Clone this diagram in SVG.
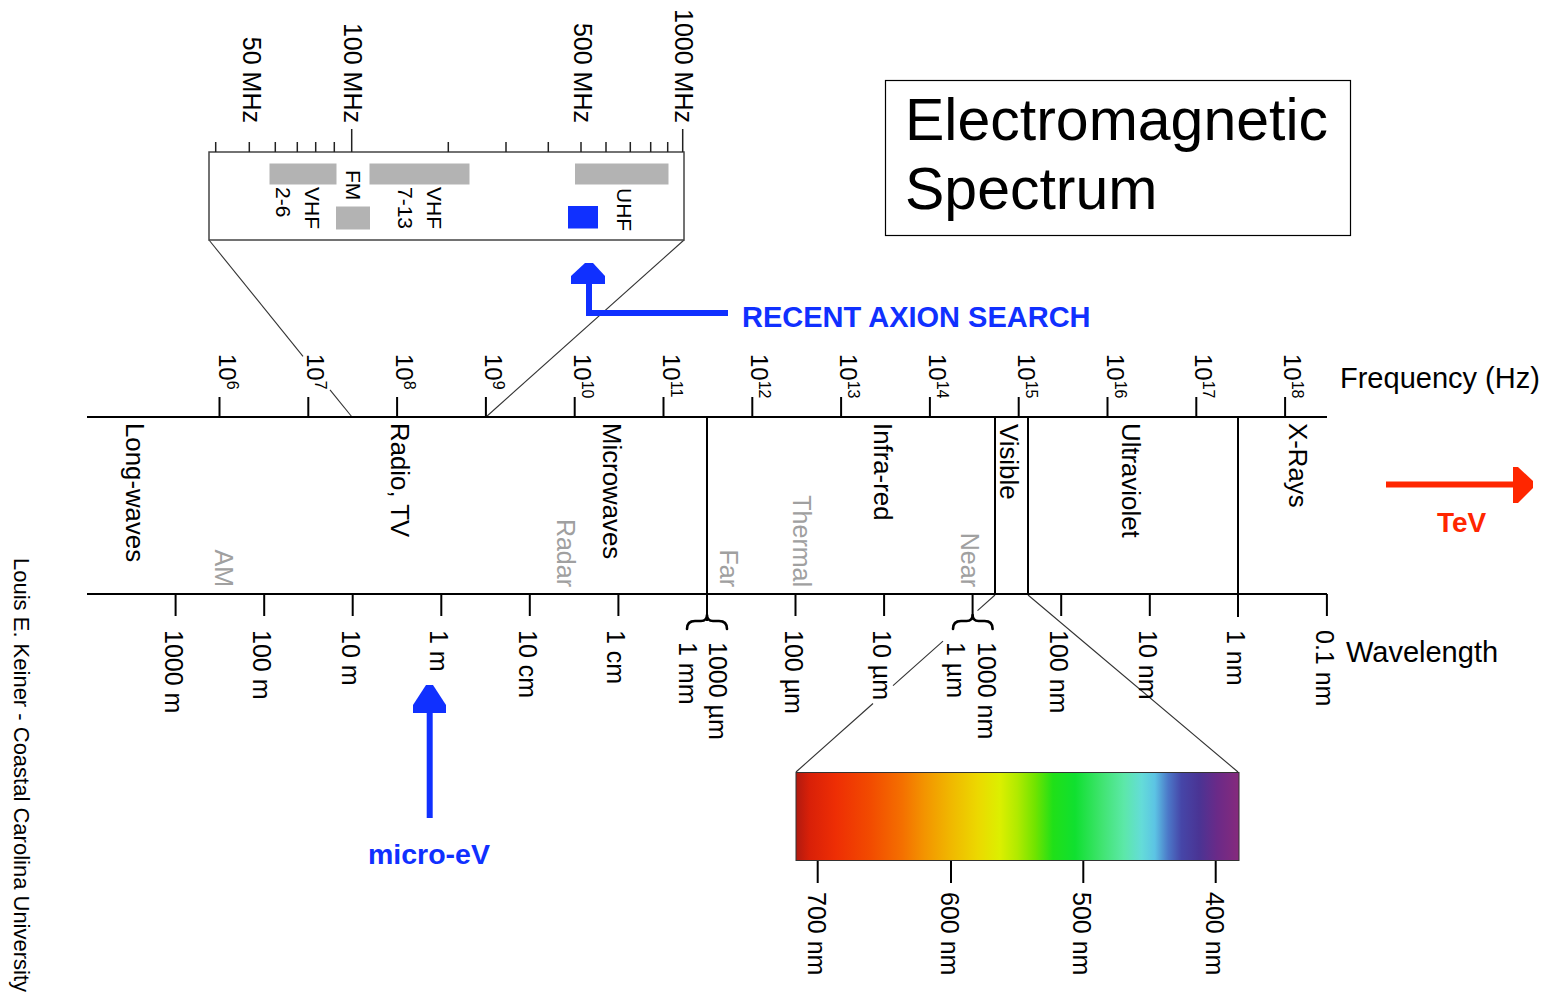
<svg xmlns="http://www.w3.org/2000/svg" width="1549" height="994" viewBox="0 0 1549 994">
<defs>
<style>
text{font-family:"Liberation Sans",Arial,Helvetica,sans-serif;fill:#000}
.f25{font-size:25px}
.f26{font-size:25.8px}
.f24{font-size:24px}
.f21{font-size:21px}
.g{fill:#a0a0a0;font-size:25px}
.ax{stroke:#000;stroke-width:2;fill:none}
.tk{stroke:#000;stroke-width:2}
.it{stroke:#222;stroke-width:1.5}
.zl{stroke:#333;stroke-width:1.1;fill:none}
.bar{fill:#b3b3b3}
.blue{fill:#1030ff}
.red{fill:#ff2600}
.bold{font-weight:bold}
.brace{fill:none;stroke:#000;stroke-width:2.6;stroke-linejoin:round;stroke-linecap:round}
</style>
<linearGradient id="vis" x1="0" x2="1" y1="0" y2="0">
<stop offset="0" stop-color="#b01a10"/>
<stop offset="0.03" stop-color="#d82008"/>
<stop offset="0.09" stop-color="#ee2e04"/>
<stop offset="0.17" stop-color="#f24c00"/>
<stop offset="0.24" stop-color="#f47000"/>
<stop offset="0.29" stop-color="#f39400"/>
<stop offset="0.35" stop-color="#f0b800"/>
<stop offset="0.41" stop-color="#ecd800"/>
<stop offset="0.46" stop-color="#dcef00"/>
<stop offset="0.50" stop-color="#b0ea00"/>
<stop offset="0.54" stop-color="#70e400"/>
<stop offset="0.58" stop-color="#20e018"/>
<stop offset="0.63" stop-color="#10e030"/>
<stop offset="0.69" stop-color="#40e470"/>
<stop offset="0.74" stop-color="#5ce8a8"/>
<stop offset="0.78" stop-color="#64dcd8"/>
<stop offset="0.81" stop-color="#5cc4e4"/>
<stop offset="0.84" stop-color="#4c78c8"/>
<stop offset="0.87" stop-color="#4646a8"/>
<stop offset="0.91" stop-color="#4a3494"/>
<stop offset="0.95" stop-color="#6a2a88"/>
<stop offset="1" stop-color="#862a7c"/>
</linearGradient>
</defs>
<rect width="1549" height="994" fill="#fff"/>

<g id="connectors">
  <line class="zl" x1="209" y1="240" x2="303" y2="356.4"/>
  <line class="zl" x1="330" y1="389.8" x2="352" y2="417"/>
  <line class="zl" x1="684" y1="240" x2="486" y2="417"/>
  <line class="zl" x1="995" y1="595" x2="977.5" y2="610.6"/>
  <line class="zl" x1="943" y1="641.2" x2="893" y2="685.7"/>
  <line class="zl" x1="873" y1="703.5" x2="796" y2="772"/>
  <line class="zl" x1="1028" y1="595" x2="1238" y2="772"/>
</g>

<g id="title">
  <rect x="885.5" y="80.5" width="465" height="155" fill="none" stroke="#000" stroke-width="1.2"/>
  <text x="905" y="140" font-size="59">Electromagnetic</text>
  <text x="905" y="209" font-size="59">Spectrum</text>
</g>

<g id="inset">
  <rect x="209" y="152" width="475" height="88" fill="#fff" stroke="#444" stroke-width="1.5"/>
  <g class="it">
    <line x1="215.7" y1="142" x2="215.7" y2="152"/>
    <line x1="249.3" y1="142" x2="249.3" y2="152"/>
    <line x1="275.3" y1="142" x2="275.3" y2="152"/>
    <line x1="297.3" y1="142" x2="297.3" y2="152"/>
    <line x1="315.7" y1="142" x2="315.7" y2="152"/>
    <line x1="334.3" y1="142" x2="334.3" y2="152"/>
    <line x1="351.7" y1="129" x2="351.7" y2="152"/>
    <line x1="448.3" y1="142" x2="448.3" y2="152"/>
    <line x1="506" y1="142" x2="506" y2="152"/>
    <line x1="548.3" y1="142" x2="548.3" y2="152"/>
    <line x1="581" y1="142" x2="581" y2="152"/>
    <line x1="606" y1="142" x2="606" y2="152"/>
    <line x1="630.3" y1="142" x2="630.3" y2="152"/>
    <line x1="650.7" y1="142" x2="650.7" y2="152"/>
    <line x1="667.7" y1="142" x2="667.7" y2="152"/>
    <line x1="682.7" y1="129" x2="682.7" y2="152"/>
  </g>
  <text class="f25" text-anchor="end" transform="translate(243,123) rotate(90)">50 MHz</text>
  <text class="f25" text-anchor="end" transform="translate(344,123) rotate(90)">100 MHz</text>
  <text class="f25" text-anchor="end" transform="translate(574,123) rotate(90)">500 MHz</text>
  <text class="f25" text-anchor="end" transform="translate(675,123) rotate(90)">1000 MHz</text>
  <rect class="bar" x="269.5" y="163.5" width="67" height="21"/>
  <rect class="bar" x="369.5" y="163.5" width="100" height="21"/>
  <rect class="bar" x="575" y="163.5" width="93.5" height="21"/>
  <rect class="bar" x="336" y="206.5" width="34" height="23"/>
  <rect class="blue" x="568" y="206" width="30" height="22.5"/>
  <text class="f21" transform="translate(305,187) rotate(90)">VHF</text>
  <text class="f21" transform="translate(275.5,187) rotate(90)">2-6</text>
  <text class="f21" transform="translate(346,170) rotate(90)">FM</text>
  <text class="f21" transform="translate(427,187) rotate(90)">VHF</text>
  <text class="f21" transform="translate(398,187) rotate(90)">7-13</text>
  <text class="f21" transform="translate(617,188) rotate(90)">UHF</text>
</g>

<g id="frequency-axis">
  <line class="ax" x1="87" y1="417" x2="1327" y2="417"/>
  <g class="tk">
    <line x1="219.5" y1="397" x2="219.5" y2="417"/>
    <line x1="308.3" y1="397" x2="308.3" y2="417"/>
    <line x1="397.1" y1="397" x2="397.1" y2="417"/>
    <line x1="485.9" y1="397" x2="485.9" y2="417"/>
    <line x1="574.7" y1="397" x2="574.7" y2="417"/>
    <line x1="663.5" y1="397" x2="663.5" y2="417"/>
    <line x1="752.3" y1="397" x2="752.3" y2="417"/>
    <line x1="841.1" y1="397" x2="841.1" y2="417"/>
    <line x1="929.9" y1="397" x2="929.9" y2="417"/>
    <line x1="1018.7" y1="397" x2="1018.7" y2="417"/>
    <line x1="1107.5" y1="397" x2="1107.5" y2="417"/>
    <line x1="1196.3" y1="397" x2="1196.3" y2="417"/>
    <line x1="1285.1" y1="397" x2="1285.1" y2="417"/>
  </g>
  <text class="f24" transform="translate(218.5,354) rotate(90)">10<tspan font-size="16" dy="-8">6</tspan></text>
  <text class="f24" transform="translate(307.3,354) rotate(90)">10<tspan font-size="16" dy="-8">7</tspan></text>
  <text class="f24" transform="translate(396.1,354) rotate(90)">10<tspan font-size="16" dy="-8">8</tspan></text>
  <text class="f24" transform="translate(484.9,354) rotate(90)">10<tspan font-size="16" dy="-8">9</tspan></text>
  <text class="f24" transform="translate(573.7,354) rotate(90)">10<tspan font-size="16" dy="-8">10</tspan></text>
  <text class="f24" transform="translate(662.5,354) rotate(90)">10<tspan font-size="16" dy="-8">11</tspan></text>
  <text class="f24" transform="translate(751.3,354) rotate(90)">10<tspan font-size="16" dy="-8">12</tspan></text>
  <text class="f24" transform="translate(840.1,354) rotate(90)">10<tspan font-size="16" dy="-8">13</tspan></text>
  <text class="f24" transform="translate(928.9,354) rotate(90)">10<tspan font-size="16" dy="-8">14</tspan></text>
  <text class="f24" transform="translate(1017.7,354) rotate(90)">10<tspan font-size="16" dy="-8">15</tspan></text>
  <text class="f24" transform="translate(1106.5,354) rotate(90)">10<tspan font-size="16" dy="-8">16</tspan></text>
  <text class="f24" transform="translate(1195.3,354) rotate(90)">10<tspan font-size="16" dy="-8">17</tspan></text>
  <text class="f24" transform="translate(1284.1,354) rotate(90)">10<tspan font-size="16" dy="-8">18</tspan></text>
  <text x="1340" y="388" font-size="29">Frequency (Hz)</text>
</g>

<g id="bands">
  <line class="ax" x1="707" y1="417" x2="707" y2="621"/>
  <line class="ax" x1="995" y1="417" x2="995" y2="594"/>
  <line class="ax" x1="1028" y1="417" x2="1028" y2="594"/>
  <line class="ax" x1="1238" y1="417" x2="1238" y2="617"/>
  <text class="f26" transform="translate(126,423) rotate(90)">Long-waves</text>
  <text class="f26" transform="translate(391,423) rotate(90)">Radio, TV</text>
  <text class="f26" transform="translate(603,423) rotate(90)">Microwaves</text>
  <text class="f26" transform="translate(874,423) rotate(90)">Infra-red</text>
  <text class="f26" transform="translate(1000,424) rotate(90)">Visible</text>
  <text class="f26" transform="translate(1122,423) rotate(90)">Ultraviolet</text>
  <text class="f26" transform="translate(1289,423) rotate(90)">X-Rays</text>
  <text class="g" text-anchor="end" transform="translate(215,587) rotate(90)">AM</text>
  <text class="g" text-anchor="end" transform="translate(557,587) rotate(90)">Radar</text>
  <text class="g" text-anchor="end" transform="translate(720,587) rotate(90)">Far</text>
  <text class="g" text-anchor="end" transform="translate(793,587) rotate(90)">Thermal</text>
  <text class="g" text-anchor="end" transform="translate(961,587) rotate(90)">Near</text>
</g>

<g id="wavelength-axis">
  <line class="ax" x1="87" y1="594" x2="1327" y2="594"/>
  <g class="tk">
    <line x1="175.6" y1="594" x2="175.6" y2="616"/>
    <line x1="264.2" y1="594" x2="264.2" y2="616"/>
    <line x1="352.7" y1="594" x2="352.7" y2="616"/>
    <line x1="441.3" y1="594" x2="441.3" y2="616"/>
    <line x1="529.8" y1="594" x2="529.8" y2="616"/>
    <line x1="618.4" y1="594" x2="618.4" y2="616"/>
    <line x1="795.5" y1="594" x2="795.5" y2="616"/>
    <line x1="884.1" y1="594" x2="884.1" y2="616"/>
    <line x1="972.6" y1="594" x2="972.6" y2="616"/>
    <line x1="1061.2" y1="594" x2="1061.2" y2="616"/>
    <line x1="1149.8" y1="594" x2="1149.8" y2="616"/>
    <line x1="1326.9" y1="594" x2="1326.9" y2="616"/>
  </g>
  <path class="brace" d="M687,629 Q687,621 695,621 L701,621 Q707,621 707,615 Q707,621 713,621 L719,621 Q727,621 727,629"/>
  <path class="brace" d="M953,629 Q953,621 961,621 L966.6,621 Q972.6,621 972.6,615 Q972.6,621 978.6,621 L984.6,621 Q992.6,621 992.6,629"/>
  <text class="f25" transform="translate(164.6,630) rotate(90)">1000 m</text>
  <text class="f25" transform="translate(253.2,630) rotate(90)">100 m</text>
  <text class="f25" transform="translate(341.7,630) rotate(90)">10 m</text>
  <text class="f25" transform="translate(430.3,630) rotate(90)">1 m</text>
  <text class="f25" transform="translate(518.8,630) rotate(90)">10 cm</text>
  <text class="f25" transform="translate(607.4,630) rotate(90)">1 cm</text>
  <text class="f25" transform="translate(708.5,642) rotate(90)">1000 µm</text>
  <text class="f25" transform="translate(679,642) rotate(90)">1 mm</text>
  <text class="f25" transform="translate(784.5,630) rotate(90)">100 µm</text>
  <text class="f25" transform="translate(873.1,630) rotate(90)">10 µm</text>
  <text class="f25" transform="translate(977.5,642) rotate(90)">1000 nm</text>
  <text class="f25" transform="translate(947,642) rotate(90)">1 µm</text>
  <text class="f25" transform="translate(1050.2,630) rotate(90)">100 nm</text>
  <text class="f25" transform="translate(1138.8,630) rotate(90)">10 nm</text>
  <text class="f25" transform="translate(1227.3,630) rotate(90)">1 nm</text>
  <text class="f25" transform="translate(1315.9,630) rotate(90)">0.1 nm</text>
  <text x="1346" y="662" font-size="29">Wavelength</text>
</g>

<g id="visible-spectrum">
  <rect x="796" y="772.5" width="443" height="88" fill="url(#vis)" stroke="#333" stroke-width="1"/>
  <g class="tk">
    <line x1="817.7" y1="861" x2="817.7" y2="883"/>
    <line x1="951" y1="861" x2="951" y2="883"/>
    <line x1="1083.3" y1="861" x2="1083.3" y2="883"/>
    <line x1="1215.7" y1="861" x2="1215.7" y2="883"/>
  </g>
  <text class="f25" transform="translate(807.7,892) rotate(90)">700 nm</text>
  <text class="f25" transform="translate(941,892) rotate(90)">600 nm</text>
  <text class="f25" transform="translate(1073.3,892) rotate(90)">500 nm</text>
  <text class="f25" transform="translate(1205.7,892) rotate(90)">400 nm</text>
</g>

<g id="axion-search">
  <polyline points="728,313 589,313 589,282" fill="none" stroke="#1030ff" stroke-width="6"/>
  <polygon class="blue" points="571,284 571,276 585,263 593,263 605,276 605,284"/>
  <text class="blue bold" x="742" y="327" font-size="29">RECENT AXION SEARCH</text>
</g>

<g id="micro-ev">
  <line x1="429.7" y1="818" x2="429.7" y2="711" stroke="#1030ff" stroke-width="6"/>
  <polygon class="blue" points="413,713 413,705 426,685 433,685 446,705 446,713"/>
  <text class="blue bold" x="368" y="864" font-size="28.5">micro-eV</text>
</g>

<g id="tev">
  <line x1="1386" y1="484.5" x2="1515" y2="484.5" stroke="#ff2600" stroke-width="6"/>
  <polygon class="red" points="1513,467 1518,467 1533,481 1533,488 1518,503 1513,503"/>
  <text class="red bold" x="1437" y="532" font-size="28">TeV</text>
</g>

<g id="credit">
  <text font-size="22" transform="translate(14,558) rotate(90)">Louis E. Keiner - Coastal Carolina University</text>
</g>
</svg>
